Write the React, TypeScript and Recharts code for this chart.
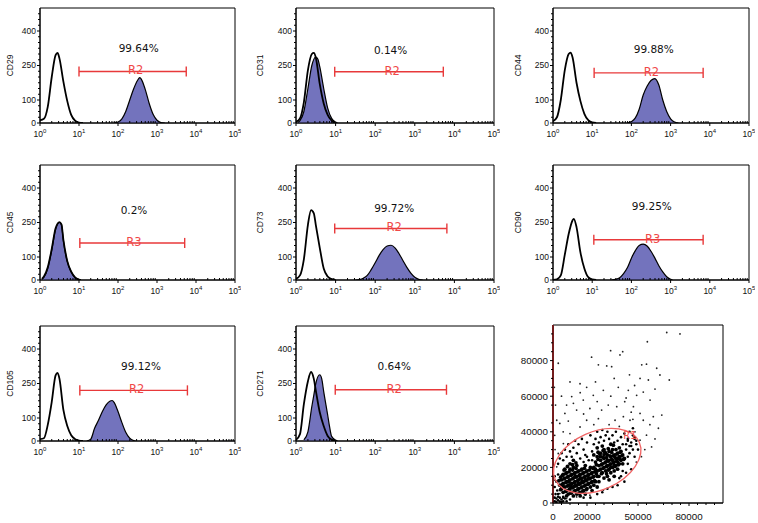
import React from "react";
import {
  ComposedChart,
  Area,
  Line,
  XAxis,
  YAxis,
  ReferenceLine,
  ReferenceDot,
  ReferenceArea,
  ScatterChart,
  Scatter,
} from "recharts";

// ---- histogram axes ----
const X_MAJOR = [1, 10, 100, 1000, 10000, 100000];
const X_EXPONENTS = ["0", "1", "2", "3", "4", "5"];
const X_MINOR = [
  2, 3, 4, 5, 6, 7, 8, 9, 20, 30, 40, 50, 60, 70, 80, 90, 200, 300, 400, 500, 600, 700, 800, 900,
  2000, 3000, 4000, 5000, 6000, 7000, 8000, 9000, 20000, 30000, 40000, 50000, 60000, 70000, 80000, 90000,
];
const Y_LABELS = [0, 100, 250, 400];
const Y_MINOR = [25, 50, 75, 125, 150, 175, 200, 225, 275, 300, 325, 350, 375, 425, 450, 475];

// ---- histogram series: [fluorescence, count] ----
const CD29_CTRL: [number, number][] = [[1, 12], [1.26, 18], [1.58, 70], [2, 200], [2.51, 295], [2.82, 305], [3.16, 280], [3.98, 180], [5.01, 95], [6.31, 35], [7.94, 10], [10, 2], [12.6, 0]];
const CD29_SAMPLE: [number, number][] = [[79.4, 0], [100, 4], [126, 18], [158, 50], [200, 100], [251, 148], [316, 185], [363, 197], [398, 190], [501, 145], [631, 85], [794, 38], [1000, 12], [1259, 2], [1585, 0]];
const CD31_CTRL: [number, number][] = [[1, 5], [1.26, 20], [1.58, 90], [2, 230], [2.51, 300], [2.82, 305], [3.16, 285], [3.98, 170], [5.01, 85], [6.31, 35], [7.94, 10], [10, 0]];
const CD31_SAMPLE: [number, number][] = [[1.12, 3], [1.26, 10], [1.58, 50], [2, 150], [2.51, 250], [3.16, 287], [3.55, 278], [3.98, 245], [5.01, 150], [6.31, 65], [7.94, 20], [10, 4], [11.2, 0]];
const CD44_CTRL: [number, number][] = [[1, 8], [1.26, 25], [1.58, 100], [2, 230], [2.51, 300], [2.82, 306], [3.16, 285], [3.98, 175], [5.01, 95], [6.31, 40], [7.94, 12], [10, 3], [12.6, 0]];
const CD44_SAMPLE: [number, number][] = [[79.4, 0], [100, 6], [126, 22], [158, 60], [200, 122], [251, 160], [316, 185], [398, 193], [501, 165], [631, 100], [794, 50], [1000, 18], [1259, 4], [1585, 0]];
const CD45_CTRL: [number, number][] = [[1.12, 5], [1.26, 15], [1.58, 55], [2, 135], [2.51, 225], [3.16, 252], [3.55, 242], [3.98, 175], [5.01, 82], [6.31, 36], [7.94, 11], [10, 2], [11.2, 0]];
const CD45_SAMPLE: [number, number][] = [[1.12, 3], [1.26, 12], [1.58, 50], [2, 130], [2.51, 220], [3.16, 250], [3.55, 240], [3.98, 170], [5.01, 80], [6.31, 35], [7.94, 10], [10, 2], [11.2, 0]];
const CD73_CTRL: [number, number][] = [[1, 5], [1.26, 20], [1.58, 90], [2, 240], [2.4, 304], [2.82, 290], [3.16, 240], [3.98, 140], [5.01, 50], [6.31, 15], [7.94, 4], [10, 0]];
const CD73_SAMPLE: [number, number][] = [[31.6, 0], [39.8, 2], [50.1, 8], [63.1, 20], [79.4, 45], [100, 75], [126, 107], [158, 132], [200, 148], [251, 151], [316, 140], [398, 115], [501, 85], [631, 55], [794, 30], [1000, 12], [1259, 3], [1585, 0]];
const CD90_CTRL: [number, number][] = [[1, 0], [1.26, 3], [1.58, 20], [2, 110], [2.51, 200], [3.16, 260], [3.39, 266], [3.98, 230], [5.01, 120], [6.31, 50], [7.94, 12], [10, 3], [12.6, 0]];
const CD90_SAMPLE: [number, number][] = [[31.6, 0], [39.8, 3], [50.1, 10], [63.1, 28], [79.4, 54], [100, 95], [126, 128], [158, 150], [200, 156], [251, 148], [316, 125], [398, 95], [501, 62], [631, 35], [794, 14], [1000, 3], [1122, 0]];
const CD105_CTRL: [number, number][] = [[1, 8], [1.26, 12], [1.58, 70], [2, 170], [2.51, 285], [2.82, 296], [3.16, 270], [3.98, 135], [5.01, 65], [6.31, 25], [7.94, 8], [10, 2], [12.6, 0]];
const CD105_SAMPLE: [number, number][] = [[15.8, 0], [20, 8], [25.1, 55], [31.6, 90], [39.8, 128], [50.1, 158], [63.1, 174], [70.8, 176], [79.4, 168], [100, 128], [126, 80], [158, 38], [200, 12], [251, 2], [282, 0]];
const CD271_CTRL: [number, number][] = [[1, 5], [1.26, 30], [1.58, 160], [2, 260], [2.4, 300], [2.82, 270], [3.16, 220], [3.98, 125], [5.01, 65], [6.31, 22], [7.94, 6], [10, 0]];
const CD271_SAMPLE: [number, number][] = [[1.58, 5], [2, 40], [2.51, 150], [2.82, 200], [3.16, 250], [3.98, 288], [4.47, 270], [5.01, 215], [6.31, 113], [7.08, 60], [7.94, 20], [10, 4], [11.2, 0]];

const MARKERS = ["CD29", "CD31", "CD44", "CD45", "CD73", "CD90", "CD105", "CD271"];
const CONTROLS = [CD29_CTRL, CD31_CTRL, CD44_CTRL, CD45_CTRL, CD73_CTRL, CD90_CTRL, CD105_CTRL, CD271_CTRL];
const SAMPLES = [CD29_SAMPLE, CD31_SAMPLE, CD44_SAMPLE, CD45_SAMPLE, CD73_SAMPLE, CD90_SAMPLE, CD105_SAMPLE, CD271_SAMPLE];
const PERCENTS = ["99.64%", "0.14%", "99.88%", "0.2%", "99.72%", "99.25%", "99.12%", "0.64%"];
const PERCENT_X = [339, 245, 372, 257, 302, 331, 389, 302];
const PERCENT_Y = [323, 316, 320, 303, 314, 320, 323, 325];
const GATE_NAMES = ["R2", "R2", "R2", "R3", "R2", "R3", "R2", "R2"];
const GATE_FROM = [10, 9.5, 11.2, 10.5, 9.5, 11, 10.5, 9.8];
const GATE_TO = [5623, 5248, 6761, 5129, 6457, 6761, 6026, 6310];
const GATE_Y = [224, 223, 218, 161, 224, 175, 220, 223];
const GATE_LABEL_X = [282, 269, 324, 257, 302, 347, 302, 302];

// ---- scatter (thousands) ----
const SC_X_TICKS = [0, 20000, 50000, 80000];
const SC_Y_TICKS = [0, 20000, 40000, 60000, 80000];
const SC_MINOR = [5000, 10000, 15000, 25000, 30000, 35000, 45000, 55000, 65000, 70000, 75000, 85000, 90000, 95000];
const SC_CORE: [number, number][] = [
  [5, 8], [6, 11], [6, 6], [7, 9], [7, 14], [8, 7], [8, 12], [8, 17], [9, 10], [9, 5], [9, 15], [10, 8], [10, 13], [10, 19], [11, 11], [11, 6], [11, 16], [12, 9], [12, 14], [12, 20],
  [13, 7], [13, 12], [13, 17], [14, 10], [14, 15], [14, 5], [14, 21], [15, 8], [15, 13], [15, 18], [16, 11], [16, 16], [16, 6], [17, 9], [17, 14], [17, 19], [18, 12], [18, 7], [18, 17], [19, 10],
  [19, 15], [19, 21], [20, 13], [20, 8], [20, 18], [21, 11], [21, 16], [22, 14], [22, 9], [22, 20], [23, 12], [23, 17], [24, 15], [24, 10], [5, 13], [6, 16], [7, 19], [4, 10], [10, 22], [12, 24],
  [8, 4], [12, 4], [16, 4], [19, 5], [23, 7], [25, 12], [25, 19], [26, 15], [26, 9], [6, 9], [9, 12], [11, 9], [13, 15], [15, 11], [17, 12], [19, 13], [21, 14], [13, 10], [10, 10], [16, 14],
  [24, 20], [25, 23], [26, 18], [26, 26], [27, 21], [27, 15], [28, 24], [28, 19], [28, 28], [29, 22], [29, 17], [30, 25], [30, 20], [30, 30], [31, 23], [31, 18], [32, 27], [32, 21], [32, 15], [33, 24],
  [33, 19], [33, 29], [34, 22], [34, 26], [34, 17], [35, 24], [35, 20], [35, 30], [36, 23], [36, 27], [36, 18], [37, 25], [37, 21], [38, 28], [38, 23], [38, 19], [39, 26], [39, 22], [40, 24], [40, 29],
  [41, 27], [41, 22], [42, 25], [27, 12], [30, 14], [33, 13], [36, 15], [29, 32], [34, 33], [39, 31], [24, 27], [26, 31], [31, 28], [37, 30], [28, 26], [30, 27], [32, 24], [34, 20], [36, 21], [38, 25],
  [4.5, 7.5], [5.5, 10.5], [6.5, 13.5], [7.5, 6.5], [7.5, 11.5], [8.5, 9.5], [8.5, 14.5], [9.5, 7.5], [9.5, 12.5], [9.5, 17.5], [10.5, 5.5], [10.5, 10.5], [10.5, 15.5], [11.5, 8.5], [11.5, 13.5],
  [11.5, 18.5], [12.5, 6.5], [12.5, 11.5], [12.5, 16.5], [13.5, 9.5], [13.5, 14.5], [13.5, 19.5], [14.5, 7.5], [14.5, 12.5], [14.5, 17.5], [15.5, 10.5], [15.5, 15.5], [15.5, 5.5], [16.5, 8.5],
  [16.5, 13.5], [16.5, 18.5], [17.5, 11.5], [17.5, 6.5], [17.5, 16.5], [18.5, 9.5], [18.5, 14.5], [18.5, 19.5], [19.5, 12.5], [19.5, 7.5], [19.5, 17.5], [20.5, 10.5], [20.5, 15.5], [21.5, 13.5],
  [21.5, 18.5], [22.5, 11.5], [22.5, 16.5], [23.5, 14.5], [23.5, 19.5], [24.5, 12.5], [24.5, 17.5], [5.5, 15.5], [6.5, 18.5], [7.5, 16.5], [8.5, 20.5], [11.5, 21.5], [13.5, 22.5], [3.5, 12.5],
  [4.5, 14.5], [25.5, 21.5], [26.5, 24.5], [27.5, 18.5], [27.5, 27.5], [28.5, 21.5], [29.5, 25.5], [29.5, 19.5], [30.5, 22.5], [30.5, 28.5], [31.5, 20.5], [31.5, 25.5], [32.5, 23.5], [32.5, 18.5],
  [33.5, 26.5], [33.5, 21.5], [34.5, 24.5], [34.5, 28.5], [35.5, 22.5], [35.5, 26.5], [36.5, 25.5], [36.5, 20.5], [37.5, 23.5], [37.5, 27.5], [38.5, 21.5], [39.5, 24.5], [39.5, 28.5], [40.5, 26.5],
  [41.5, 24.5], [31.5, 16.5], [28.5, 16.5], [25.5, 16.5], [26.5, 28.5], [29.5, 29.5], [32.5, 30.5], [35.5, 32.5],
];
const SC_HALO: [number, number][] = [
  [3, 16], [3, 22], [4, 25], [5, 28], [6, 24], [7, 30], [8, 26], [9, 33], [10, 29], [11, 26], [12, 31], [13, 35], [14, 28], [15, 33], [16, 25], [17, 36], [18, 30], [19, 27], [20, 34], [21, 24],
  [22, 38], [23, 29], [24, 33], [25, 36], [26, 40], [27, 34], [28, 37], [29, 41], [30, 35], [31, 38], [32, 40], [33, 36], [35, 38], [36, 34], [37, 40], [38, 35], [40, 37], [41, 33], [42, 39], [43, 30],
  [44, 35], [45, 28], [46, 32], [47, 38], [48, 26], [49, 33], [44, 22], [46, 19], [43, 17], [40, 15], [42, 12], [38, 10], [35, 9], [32, 8], [29, 6], [26, 5], [22, 3], [18, 3], [6, 3], [10, 2],
  [45, 40], [47, 42], [48, 36], [50, 30], [20, 26], [18, 23], [23, 24], [44, 26], [41, 18], [39, 14], [44, 36], [46, 34], [48, 37], [45, 32], [47, 30], [49, 35], [43, 33],
  [1, 1], [2, 0.5], [3, 1.5], [4, 0.8], [5, 2], [6, 1], [7, 2.5], [2, 2.5], [3, 3.5], [1, 3], [4, 3], [8, 1], [5, 0.5], [6, 3.5], [1.5, 5], [2.5, 7], [1, 9], [2, 12], [1, 15], [3, 5],
];
const SC_SPARSE: [number, number][] = [
  [66.9, 95.8], [74.7, 95], [55.5, 90.6], [22.7, 81.9], [33.9, 85.6], [41, 85], [39.4, 83.2], [3.1, 78.5], [26.7, 77.6], [31.6, 77], [34.5, 76.6], [52.2, 77.6], [55, 78], [61, 75.7], [62.9, 71.9],
  [68.4, 69.1], [56.1, 69.1], [51.2, 70], [10, 68], [15.9, 67], [19.8, 65], [38.4, 65], [44.3, 63.3], [49.2, 60.5], [53.1, 62.3], [57.1, 57.8], [64, 49.4], [59, 48.5], [11, 59.8], [12, 56],
  [17.8, 57.8], [23.7, 60.5], [29.6, 63.3], [4, 44.7], [2.2, 46.5], [7, 50.3], [13.9, 52.2], [21.7, 53.1], [28.6, 52.2], [32.5, 55], [37.5, 54.1], [42.2, 56.9], [47.3, 54.1], [51.2, 50.3], [53.1, 46.5],
  [55, 38.1], [58, 31.5], [51.2, 35.3], [48.2, 40], [45.3, 46.5], [41.4, 48.5], [36.5, 46.5], [26.7, 47.4], [19.8, 46.5], [15.9, 42.7], [10, 39], [6.1, 33.4], [3.1, 27.8], [2.2, 20.3], [1.2, 12.8],
  [4, 5.3], [8, 2.5], [13.9, 3.4], [21.7, 4.4], [29.6, 7.2], [45, 72], [36, 70], [25, 68], [48, 66], [60, 64], [43, 59], [34, 60], [26, 57], [16, 62], [8, 55], [5, 60], [46, 51], [39, 43],
  [33, 44], [24, 44], [18, 50], [62, 42], [57, 44], [60, 36], [54, 30], [52, 26], [49, 23], [47, 47], [9, 46], [6, 40], [1, 38], [1.5, 55], [0.8, 65], [1.2, 30],
];
const R1_CENTER = { x: 26000, y: 23700 };
const R1_LABEL = { x: 45300, y: 38100 };

// ---- layout ----
const COL_LEFT = [40, 296, 553];
const COL_WIDTH = [195, 198, 196];
const ROW_TOP = [8, 165, 326];
const NAME_OFFSET = [10, 4, 5];
const PLOT_H = 115;

const TICK_FONT = "'Liberation Sans', Arial, sans-serif";
const TEXT_FONT = "'DejaVu Sans', Verdana, sans-serif";
const NAME_FONT = "'Liberation Sans Narrow', 'Liberation Sans', Arial, sans-serif";
const RED = "#e8393a";
const BLUE = "#7373bd";

const toPts = (a: [number, number][]) => a.map(([x, n]) => ({ x, n }));
const toK = (a: [number, number][]) => a.map(([x, y]) => ({ x: x * 1000, y: y * 1000 }));

const XTick = (props: any) => {
  const { x, y, payload } = props;
  const idx = X_MAJOR.indexOf(payload.value);
  if (idx < 0) return <line x1={x} x2={x} y1={y} y2={y - 2} stroke="#000" />;
  return (
    <g>
      <line x1={x} x2={x} y1={y} y2={y + 3} stroke="#000" />
      <text x={x} y={y + 14} textAnchor="middle" fontSize={8.5} fontFamily={TICK_FONT} fill="#111">
        10<tspan dy={-4} fontSize={6}>{X_EXPONENTS[idx]}</tspan>
      </text>
    </g>
  );
};

const YTick = (props: any) => {
  const { x, y, payload } = props;
  const major = Y_LABELS.includes(payload.value);
  return (
    <g>
      <line x1={x - (major ? 3 : 2)} x2={x} y1={y} y2={y} stroke="#000" />
      {major && (
        <text x={x - 4} y={y} dy="0.35em" textAnchor="end" fontSize={8.5} fontFamily={TICK_FONT} fill="#111">
          {payload.value}
        </text>
      )}
    </g>
  );
};

function Histogram({ i }: { i: number }) {
  const col = i % 3;
  const row = Math.floor(i / 3);
  const left = COL_LEFT[col];
  const top = ROW_TOP[row];
  const w = COL_WIDTH[col];
  const gy = GATE_Y[i];
  return (
    <div style={{ position: "absolute", left: left - 40, top: top - 6 }}>
      <ComposedChart width={w + 46} height={PLOT_H + 6 + 24} margin={{ top: 6, right: 6, bottom: 0, left: 0 }}>
        <XAxis
          dataKey="x"
          type="number"
          scale="log"
          domain={[1, 100000]}
          allowDataOverflow
          ticks={[...X_MAJOR, ...X_MINOR]}
          interval={0}
          tick={(p: any) => <XTick {...p} />}
          tickLine={false}
          tickSize={0}
          tickMargin={0}
          height={24}
          stroke="#000"
        />
        <YAxis
          type="number"
          domain={[0, 500]}
          allowDataOverflow
          ticks={[...Y_LABELS, ...Y_MINOR]}
          interval={0}
          width={40}
          tick={(p: any) => <YTick {...p} />}
          tickLine={false}
          tickSize={0}
          tickMargin={0}
          stroke="#000"
          label={{
            value: MARKERS[i],
            angle: -90,
            position: "insideLeft",
            offset: NAME_OFFSET[col],
            fontSize: 8.5,
            fontFamily: NAME_FONT,
            fill: "#111",
            style: { textAnchor: "middle" },
          }}
        />
        <ReferenceArea x1={1} x2={100000} y1={0} y2={500} fill="none" stroke="#000" strokeWidth={1} />
        <Area
          data={toPts(SAMPLES[i])}
          dataKey="n"
          type="monotone"
          fill={BLUE}
          fillOpacity={1}
          stroke="#000"
          strokeWidth={1.2}
          dot={false}
          activeDot={false}
          isAnimationActive={false}
        />
        <Line
          data={toPts(CONTROLS[i])}
          dataKey="n"
          type="monotone"
          stroke="#000"
          strokeWidth={1.8}
          dot={false}
          activeDot={false}
          isAnimationActive={false}
        />
        <ReferenceLine segment={[{ x: GATE_FROM[i], y: gy }, { x: GATE_TO[i], y: gy }]} stroke={RED} strokeWidth={1.4} />
        <ReferenceLine segment={[{ x: GATE_FROM[i], y: gy - 22 }, { x: GATE_FROM[i], y: gy + 22 }]} stroke={RED} strokeWidth={1.4} />
        <ReferenceLine segment={[{ x: GATE_TO[i], y: gy - 22 }, { x: GATE_TO[i], y: gy + 22 }]} stroke={RED} strokeWidth={1.4} />
        <ReferenceDot
          x={GATE_LABEL_X[i]}
          y={gy + 5}
          r={0}
          shape={(p: any) => (
            <text x={p.cx} y={p.cy} dy="0.36em" textAnchor="middle" fontSize={11.5} fontFamily={TEXT_FONT} fill="#f04848">
              {GATE_NAMES[i]}
            </text>
          )}
        />
        <ReferenceDot
          x={PERCENT_X[i]}
          y={PERCENT_Y[i]}
          r={0}
          shape={(p: any) => (
            <text x={p.cx} y={p.cy} dy="0.36em" textAnchor="middle" fontSize={10.5} fontFamily={TEXT_FONT} fill="#111">
              {PERCENTS[i]}
            </text>
          )}
        />
      </ComposedChart>
    </div>
  );
}

const ScXTick = (props: any) => {
  const { x, y, payload } = props;
  const major = SC_X_TICKS.includes(payload.value);
  return (
    <g>
      <line x1={x} x2={x} y1={y} y2={y + (major ? 3 : 2)} stroke="#000" />
      {major && (
        <text x={x} y={y + 17} textAnchor="middle" fontSize={9.8} fontFamily={TICK_FONT} fill="#111">
          {payload.value}
        </text>
      )}
    </g>
  );
};

const ScYTick = (props: any) => {
  const { x, y, payload } = props;
  const major = SC_Y_TICKS.includes(payload.value);
  return (
    <g>
      <line x1={x - (major ? 3 : 2)} x2={x} y1={y} y2={y} stroke="#000" />
      {major && (
        <text x={x - 5} y={y} dy="0.35em" textAnchor="end" fontSize={9.8} fontFamily={TICK_FONT} fill="#111">
          {payload.value}
        </text>
      )}
    </g>
  );
};

const dot = (r: number, fill: string) => (p: any) => <circle cx={p.cx} cy={p.cy} r={r} fill={fill} />;

function ScatterPanel() {
  return (
    <div style={{ position: "absolute", left: 503, top: 317 }}>
      <ScatterChart width={230} height={206} margin={{ top: 8, right: 10, bottom: 0, left: 0 }}>
        <XAxis
          dataKey="x"
          type="number"
          domain={[0, 100000]}
          allowDataOverflow
          ticks={[...SC_X_TICKS, ...SC_MINOR]}
          interval={0}
          tick={(p: any) => <ScXTick {...p} />}
          tickLine={false}
          tickSize={0}
          tickMargin={0}
          height={20}
          stroke="#000"
        />
        <YAxis
          dataKey="y"
          type="number"
          domain={[0, 100000]}
          allowDataOverflow
          ticks={[...SC_Y_TICKS, ...SC_MINOR]}
          interval={0}
          width={50}
          tick={(p: any) => <ScYTick {...p} />}
          tickLine={false}
          tickSize={0}
          tickMargin={0}
          stroke="#000"
        />
        <ReferenceArea x1={0} x2={100000} y1={0} y2={100000} fill="none" stroke="#000" strokeWidth={1} />
        <Scatter data={toK(SC_SPARSE)} shape={dot(0.9, "#222")} isAnimationActive={false} />
        <Scatter data={toK(SC_HALO)} shape={dot(1.3, "#000")} isAnimationActive={false} />
        <Scatter data={toK(SC_CORE)} shape={dot(1.9, "#000")} isAnimationActive={false} />
        <ReferenceLine x={0} stroke={RED} strokeWidth={2} />
        <ReferenceDot
          x={R1_CENTER.x}
          y={R1_CENTER.y}
          r={0}
          shape={(p: any) => (
            <ellipse
              cx={p.cx}
              cy={p.cy}
              rx={46}
              ry={29}
              fill="none"
              stroke="#f06464"
              strokeWidth={1.3}
              transform={`rotate(-24 ${p.cx} ${p.cy})`}
            />
          )}
        />
        <ReferenceDot
          x={R1_LABEL.x}
          y={R1_LABEL.y}
          r={0}
          shape={(p: any) => (
            <text x={p.cx} y={p.cy} dy="0.36em" textAnchor="middle" fontSize={10} fontFamily={TEXT_FONT} fill="#f05050">
              R1
            </text>
          )}
        />
      </ScatterChart>
    </div>
  );
}

export default function App() {
  return (
    <div style={{ position: "absolute", left: 0, top: 0, width: 758, height: 523, background: "#fff", overflow: "hidden" }}>
      {MARKERS.map((m, i) => (
        <Histogram key={m} i={i} />
      ))}
      <ScatterPanel />
    </div>
  );
}
